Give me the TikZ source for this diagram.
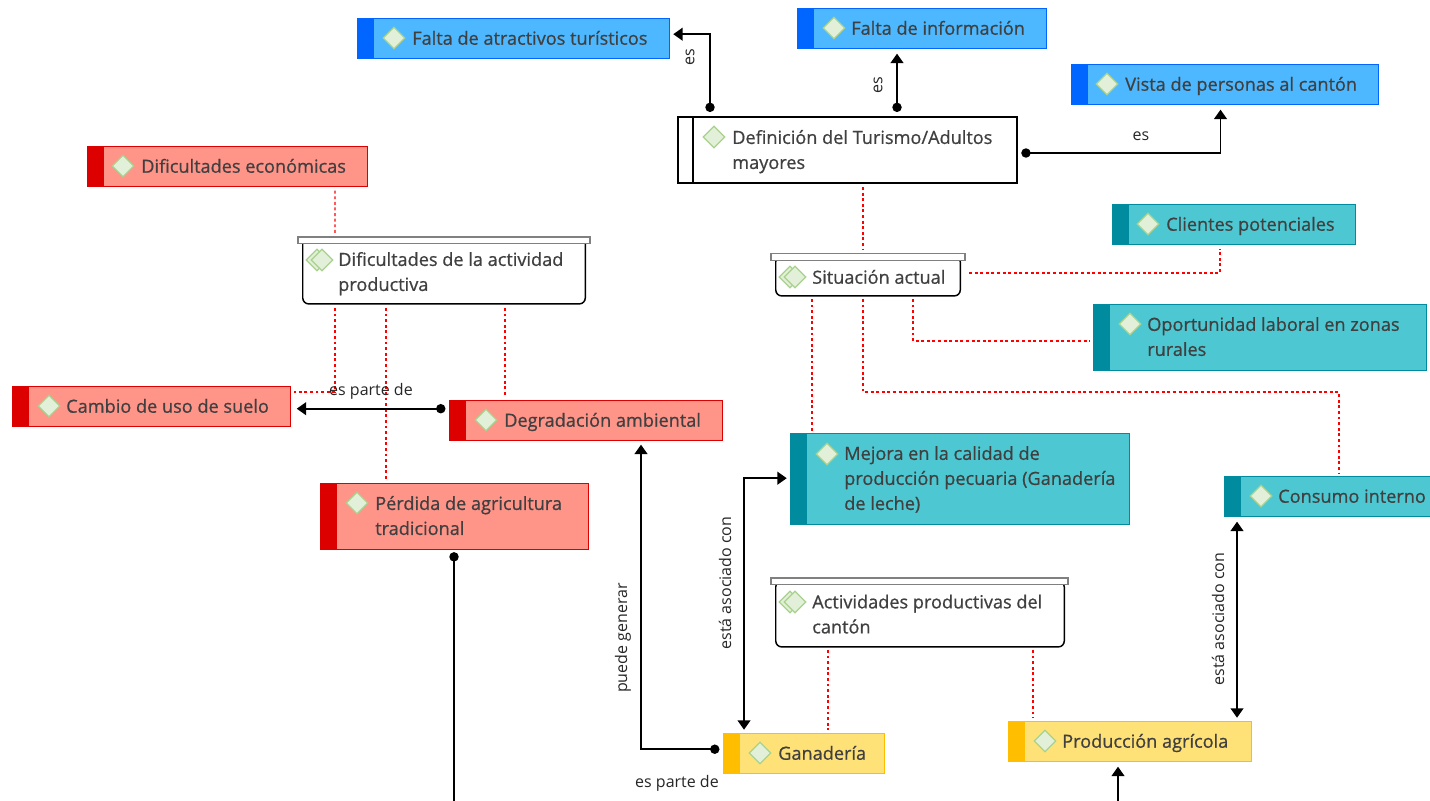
\documentclass[tikz,border=0pt]{standalone}
\usepackage{fontspec}
\setmainfont{Open Sans}
\newfontfamily\topicfont[FakeBold=0.7]{Open Sans}
\usetikzlibrary{arrows.meta,calc,shapes.geometric}
\definecolor{bluebar}{HTML}{0066FF}
\definecolor{bluefill}{HTML}{4DB8FF}
\definecolor{redbar}{HTML}{DD0000}
\definecolor{redfill}{HTML}{FF9489}
\definecolor{tealbar}{HTML}{008C9E}
\definecolor{tealfill}{HTML}{4DC8D2}
\definecolor{yellowbar}{HTML}{FFBF00}
\definecolor{yellowfill}{HTML}{FFE277}
\definecolor{icongreen}{HTML}{A9D18E}
\definecolor{iconfill}{HTML}{E2F0D9}
\definecolor{inktext}{HTML}{404040}
\tikzset{
  topicbox/.style n args={4}{draw=#1,fill=#2,line width=1.1pt,anchor=north west,inner sep=0pt,outer sep=0pt,
    xshift=0.55pt,yshift=-0.55pt,minimum width=#3*0.75pt-1.1pt,minimum height=#4*0.75pt-0.8pt,
    path picture={\fill[#1] (path picture bounding box.north west) rectangle ([xshift=12pt]path picture bounding box.south west);}},
  bluebox/.style 2 args={topicbox={bluebar}{bluefill}{#1}{#2}},
  redbox/.style 2 args={topicbox={redbar}{redfill}{#1}{#2}},
  tealbox/.style 2 args={topicbox={tealbar}{tealfill}{#1}{#2}},
  yellowbox/.style 2 args={topicbox={yellowbar}{yellowfill}{#1}{#2}},
  groupbody/.style 2 args={draw=black,fill=white,line width=1.1pt,rounded corners=4.5pt,anchor=north west,inner sep=0pt,outer sep=0pt,
    xshift=0.55pt,minimum width=#1*0.75pt-1.1pt,minimum height=#2*0.75pt-0.8pt},
  groupbar/.style={draw=gray,fill=white,line width=1pt,anchor=north west,inner sep=0pt,outer sep=0pt,minimum height=5pt},
  topictext/.style={anchor=west,align=left,inner sep=0pt,yshift=-1.3pt,text=inktext,
    font=\topicfont\fontsize{13.6}{18.75}\selectfont,execute at begin node=\strut,execute at end node=\strut},
  linklabel/.style={inner sep=0pt,text=black!85,font=\fontsize{12}{14}\selectfont},
  diamondicon/.style={shape=diamond,draw=icongreen,fill=iconfill,line width=1pt,inner sep=0pt,minimum size=16.5pt},
  blacklink/.style={draw=black,line width=1.3pt,{Circle[length=7pt]}-{Triangle[length=7pt,width=9.5pt]}},
  bothlink/.style={draw=black,line width=1.3pt,{Triangle[length=7pt,width=9.5pt]}-{Triangle[length=7pt,width=9.5pt]}},
  redlink/.style={draw=red,line width=1.1pt,dash pattern=on 2.2pt off 2pt},
}
\begin{document}
\begin{tikzpicture}[x=0.75pt,y=-0.75pt]
\useasboundingbox (0,0) rectangle (1430,800);

% top row
\node[bluebox={313}{41}] (atractivos) at (357,18) {};
\node[diamondicon] (atractivosicon) at (394,38) {};
\node[topictext] (atractivostext) at (412,38) {Falta de atractivos turísticos};
\node[bluebox={250}{41}] (informacion) at (797,8) {};
\node[diamondicon] (informacionicon) at (834,28) {};
\node[topictext] (informaciontext) at (851,28) {Falta de información};
\node[bluebox={308}{41}] (vista) at (1071,64) {};
\node[diamondicon] (vistaicon) at (1107,84) {};
\node[topictext] (vistatext) at (1125,84) {Vista de personas al cantón};

% definition
\node[draw=black,fill=white,line width=1.1pt,anchor=north west,inner sep=0pt,outer sep=0pt,minimum width=254.25pt,minimum height=49.5pt] (definicion) at (678,117) {};
\draw[black,line width=1.1pt] ($(definicion.north west)+(15,0)$) -- ($(definicion.south west)+(15,0)$);
\node[diamondicon] (definicionicon) at (714,137) {};
\node[topictext] (definiciontext) at (732,151.5) {Definición del Turismo/Adultos\\mayores};

% left column
\node[redbox={281}{41}] (economicas) at (87,146) {};
\node[diamondicon] (economicasicon) at (123,166) {};
\node[topictext] (economicastext) at (141,166) {Dificultades económicas};
\node[groupbody={284}{67}] (actividad) at (302,238) {};
\node[groupbar,minimum width=219pt] (actividadbar) at (298,237) {};
\node[diamondicon] (actividadback) at (317,260) {};
\node[diamondicon] (actividadicon) at (322,260) {};
\node[topictext] (actividadtext) at (338,273.5) {Dificultades de la actividad\\productiva};
\node[redbox={279}{41}] (cambio) at (12,386) {};
\node[diamondicon] (cambioicon) at (49,406) {};
\node[topictext] (cambiotext) at (66,406) {Cambio de uso de suelo};
\node[redbox={274}{41}] (degradacion) at (449,400) {};
\node[diamondicon] (degradacionicon) at (486,420) {};
\node[topictext] (degradaciontext) at (504,420) {Degradación ambiental};
\node[redbox={269}{67}] (perdida) at (320,483) {};
\node[diamondicon] (perdidaicon) at (357,503) {};
\node[topictext] (perdidatext) at (375,517.5) {Pérdida de agricultura\\tradicional};

% situation
\node[groupbody={186}{41}] (situacion) at (775,256) {};
\node[groupbar,minimum width=145.5pt] (situacionbar) at (771,253.5) {};
\node[diamondicon] (situacionback) at (790,277) {};
\node[diamondicon] (situacionicon) at (795,277) {};
\node[topictext] (situaciontext) at (812,277) {Situación actual};
\node[tealbox={244}{41}] (clientes) at (1112,204) {};
\node[diamondicon] (clientesicon) at (1148,224) {};
\node[topictext] (clientestext) at (1166,224) {Clientes potenciales};
\node[tealbox={334}{67}] (oportunidad) at (1093,304) {};
\node[diamondicon] (oportunidadicon) at (1130,324) {};
\node[topictext] (oportunidadtext) at (1147,338.5) {Oportunidad laboral en zonas\\rurales};
\node[tealbox={340}{92}] (mejora) at (790,433) {};
\node[diamondicon] (mejoraicon) at (827,454) {};
\node[topictext] (mejoratext) at (844,480) {Mejora en la calidad de\\producción pecuaria (Ganadería\\de leche)};
\node[tealbox={210}{41}] (consumo) at (1224,476) {};
\node[diamondicon] (consumoicon) at (1261,496) {};
\node[topictext] (consumotext) at (1278,496) {Consumo interno};

% productive activities
\node[groupbody={290}{67}] (productivas) at (775,581) {};
\node[groupbar,minimum width=222.75pt] (productivasbar) at (771,578) {};
\node[diamondicon] (productivasback) at (790,602) {};
\node[diamondicon] (productivasicon) at (795,602) {};
\node[topictext] (productivastext) at (812,616) {Actividades productivas del\\cantón};
\node[yellowbox={162}{41}] (ganaderia) at (723,733) {};
\node[diamondicon] (ganaderiaicon) at (760,753) {};
\node[topictext] (ganaderiatext) at (778,753) {Ganadería};
\node[yellowbox={244}{41}] (agricola) at (1008,721) {};
\node[diamondicon] (agricolaicon) at (1045,741) {};
\node[topictext] (agricolatext) at (1062,741) {Producción agrícola};

% red dotted links
\draw[redlink] ($(economicas.south west)+(247.27,4)$) -- ($(actividadbar.north west)+(37,-4)$);
\draw[redlink] ($(actividad.south west)+(32.27,4)$) |- ($(cambio.north east)+(4,5.45)$);
\draw[redlink] ($(actividad.south west)+(83.27,4)$) -- ($(perdida.north west)+(65.27,-3)$);
\draw[redlink] ($(actividad.south west)+(202.27,4)$) -- ($(degradacion.north west)+(55.27,-4)$);
\draw[redlink] ($(definicion.south west)+(185,4)$) -- ($(situacionbar.north west)+(92,-4)$);
\draw[redlink] ($(situacionbar.north east)+(4,19.5)$) -| ($(clientes.south west)+(107.27,4)$);
\draw[redlink] ($(situacion.south west)+(36.27,3)$) -- ($(mejora.north west)+(21.27,-3)$);
\draw[redlink] ($(situacion.south west)+(87.27,3)$) |- ($(consumo.north west)+(114.27,-84.55)$) -- ($(consumo.north west)+(114.27,-4)$);
\draw[redlink] ($(situacion.south west)+(137.27,3)$) |- ($(oportunidad.north west)+(-4,36.45)$);
\draw[redlink] ($(productivas.south west)+(52.27,3)$) -- ($(ganaderia.north west)+(104.27,-4)$);
\draw[redlink] ($(productivas.south west)+(257.27,3)$) -- ($(agricola.north west)+(24.27,-4)$);

% black links
\draw[blacklink] ($(definicion.north west)+(32,-5)$) |- ($(atractivos.east)+(4,-4.5)$);
\draw[blacklink] ($(definicion.north west)+(219,-5)$) -- ($(informacion.south west)+(99.27,5)$);
\draw[blacklink] ($(definicion.east)+(4.3,3)$) -| ($(vista.south west)+(148.77,5)$);
\draw[blacklink] ($(degradacion.west)+(-4.3,-12)$) -- ($(degradacion.west)+(-153,-12)$);
\draw[blacklink] ($(perdida.south west)+(133.27,2.5)$) |- ($(agricola.south west)+(109.27,39.8)$) -- ($(agricola.south west)+(109.27,5)$);
\draw[blacklink] ($(ganaderia.west)+(-4.3,-4.5)$) -| ($(degradacion.south west)+(191.27,4)$);
\draw[bothlink] ($(mejora.west)+(-4,-1)$) -| ($(ganaderia.north west)+(20.27,-4)$);
\draw[bothlink] ($(consumo.south west)+(12.27,5)$) -- ($(agricola.north east)+(-14.27,-4)$);

% link labels
\node[linklabel,rotate=90] (labelatractivos) at (690,57) {es};
\node[linklabel,rotate=90] (labelinformacion) at (878,85) {es};
\node[linklabel] (labelvista) at (1141,136.5) {es};
\node[linklabel] (labelcambio) at (371,391.5) {es parte de};
\node[linklabel] (labelganaderia) at (677,783.5) {es parte de};
\node[linklabel,rotate=90] (labelgenerar) at (623,638) {puede generar};
\node[linklabel,rotate=90] (labelmejora) at (725,583) {está asociado con};
\node[linklabel,rotate=90] (labelconsumo) at (1218,619) {está asociado con};
\end{tikzpicture}
\end{document}
